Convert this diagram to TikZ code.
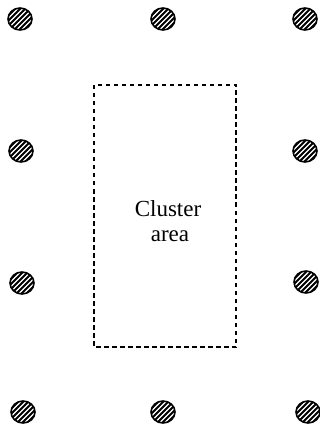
\documentclass[tikz,border=0pt]{standalone}
\usepackage{fontspec}
\setmainfont{Liberation Serif}
\usetikzlibrary{shapes.geometric}
\begin{document}
\begin{tikzpicture}[x=1pt,y=-1pt,
  well/.style={draw=black,line width=1.6pt,ellipse,minimum width=24pt,minimum height=22pt,inner sep=0pt,
    path picture={\foreach \k in {-35,-30,...,35}{\draw[line width=1.8pt] ([xshift=\k pt]path picture bounding box.center) ++(-16pt,-16pt) -- ++(32pt,32pt);}}},
  cluster/.style={draw=black,line width=1.2pt,dash pattern=on 4.5pt off 3.5pt},
  lab/.style={anchor=base,font=\fontsize{23}{27}\selectfont,inner sep=0pt}]
\useasboundingbox (0,0) rectangle (320,430);
\node[well] (w1) at (20,19) {};
\node[well] (w2) at (163,19) {};
\node[well] (w3) at (305,19) {};
\node[well] (w4) at (21,151) {};
\node[well] (w5) at (305,151) {};
\node[well] (w6) at (22,283) {};
\node[well] (w7) at (306,282) {};
\node[well] (w8) at (23,412) {};
\node[well] (w9) at (163,412) {};
\node[well] (w10) at (308,412) {};
\draw[cluster] (94,85) rectangle (236,347);
\node[lab] (l1) at (168,216) {Cluster};
\node[lab] (l2) at (170,241) {area};
\end{tikzpicture}
\end{document}
